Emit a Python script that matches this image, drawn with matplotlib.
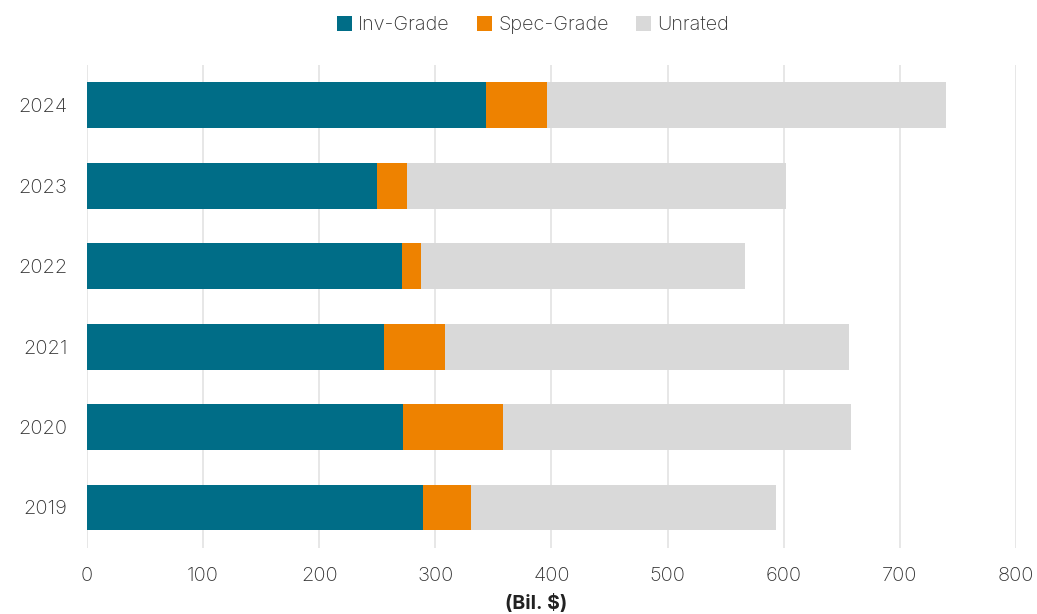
import matplotlib
matplotlib.use("Agg")
import matplotlib.pyplot as plt
import numpy as np

plt.rcParams['font.family'] = ['Inter', 'DejaVu Sans']

years = ["2019", "2020", "2021", "2022", "2023", "2024"]
inv_grade = [289, 272, 256, 271, 250, 344]
spec_grade = [42, 86, 52, 17, 26, 52]
unrated = [262, 300, 348, 279, 326, 344]

colors = {"Inv-Grade": "#006D87", "Spec-Grade": "#EE8200", "Unrated": "#D9D9D9"}

fig = plt.figure(figsize=(10.37, 6.14), dpi=100)
ax = fig.add_axes([0.0839, 0.108, 0.8958, 0.786])

y = np.arange(len(years))
inv = np.array(inv_grade)
spec = np.array(spec_grade)
unr = np.array(unrated)
h = 0.57
ax.barh(y, inv, height=h, color=colors["Inv-Grade"], label="Inv-Grade", zorder=3)
ax.barh(y, spec, left=inv, height=h, color=colors["Spec-Grade"], label="Spec-Grade", zorder=3)
ax.barh(y, unr, left=inv + spec, height=h, color=colors["Unrated"], label="Unrated", zorder=3)

ax.set_xlim(0, 800)
ax.set_ylim(-0.5, len(years) - 0.5)
ax.set_xticks(range(0, 801, 100))
ax.set_yticks(y)
ax.set_yticklabels(years)
ax.grid(axis='x', color='#E3E3E3', linewidth=1.2, zorder=0)
for s in ax.spines.values():
    s.set_visible(False)
ax.tick_params(axis='both', length=0, labelsize=14.5, labelcolor='#333333')
for lab in ax.get_xticklabels() + ax.get_yticklabels():
    lab.set_fontweight('light')
ax.tick_params(axis='x', pad=14)
ax.tick_params(axis='y', pad=14)
ax.set_xlabel("(Bil. $)", fontsize=14, fontweight='bold', color='#222222')
ax.xaxis.set_label_coords(0.484, -0.095)

leg = fig.legend(loc='upper center', bbox_to_anchor=(0.514, 1.003), ncol=3, frameon=False,
                 fontsize=14.3, handlelength=0.75, handleheight=0.75, handletextpad=0.3,
                 columnspacing=1.4, labelcolor='#333333')
for t in leg.get_texts():
    t.set_fontweight('light')

fig.savefig("out.png", dpi=100)
